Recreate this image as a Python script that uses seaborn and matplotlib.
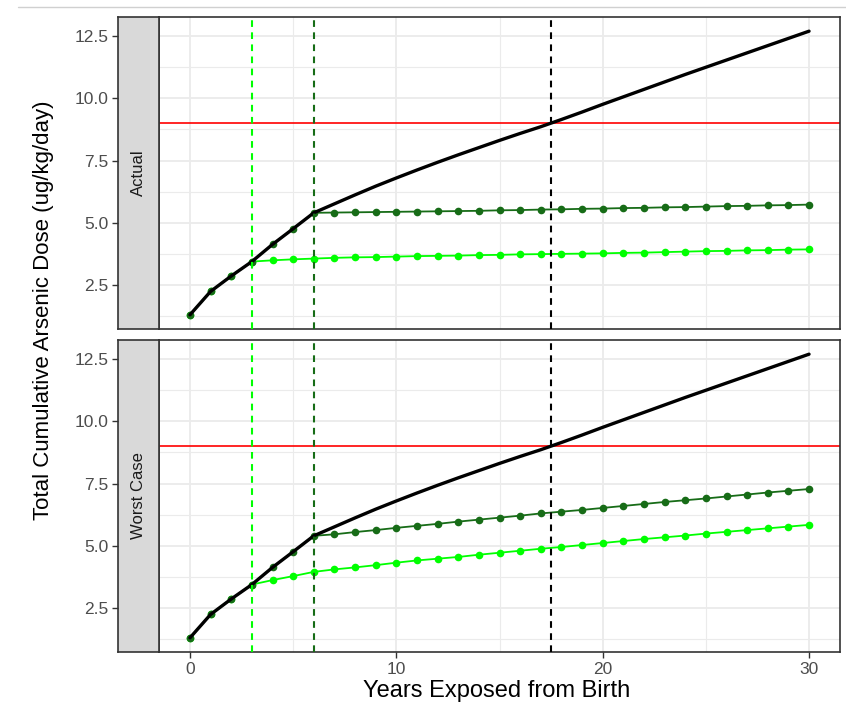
import numpy as np
import pandas as pd
import matplotlib
matplotlib.use("Agg")
import matplotlib.pyplot as plt
from matplotlib.lines import Line2D
from matplotlib.ticker import MultipleLocator
import seaborn as sns

# ---------------- data ----------------
years = list(range(31))
panels = ["Actual", "Worst Case"]

black_total = [1.30, 2.24, 2.86, 3.44, 4.13, 4.76, 5.40, 5.76, 6.12, 6.47, 6.80,
               7.12, 7.43, 7.73, 8.02, 8.31, 8.59, 8.86, 9.15, 9.45, 9.76,
               10.06, 10.36, 10.66, 10.96, 11.25, 11.54, 11.83, 12.12, 12.41, 12.70]

dg_actual = [1.30, 2.24, 2.86, 3.44, 4.13, 4.76, 5.40, 5.41, 5.42, 5.43, 5.44,
             5.45, 5.46, 5.47, 5.48, 5.50, 5.51, 5.53, 5.54, 5.56, 5.57,
             5.59, 5.60, 5.62, 5.63, 5.65, 5.67, 5.68, 5.70, 5.71, 5.73]

lg_actual = [1.30, 2.24, 2.86, 3.44, 3.49, 3.53, 3.56, 3.59, 3.61, 3.62, 3.64,
             3.66, 3.67, 3.68, 3.70, 3.71, 3.73, 3.74, 3.75, 3.76, 3.77,
             3.79, 3.80, 3.82, 3.84, 3.86, 3.87, 3.89, 3.90, 3.92, 3.93]

dg_worst = [1.30, 2.24, 2.86, 3.44, 4.13, 4.76, 5.40, 5.46, 5.55, 5.63, 5.72,
            5.80, 5.88, 5.97, 6.05, 6.13, 6.21, 6.30, 6.37, 6.44, 6.52,
            6.60, 6.68, 6.76, 6.83, 6.90, 6.98, 7.06, 7.14, 7.21, 7.28]

lg_worst = [1.30, 2.24, 2.86, 3.44, 3.62, 3.78, 3.95, 4.05, 4.13, 4.22, 4.32,
            4.41, 4.48, 4.55, 4.64, 4.72, 4.80, 4.88, 4.95, 5.03, 5.11,
            5.19, 5.27, 5.34, 5.41, 5.49, 5.56, 5.63, 5.70, 5.77, 5.84]

threshold = 9.0
vlines = [3, 6, 17.5]
x_ticks = [0, 10, 20, 30]
y_ticks = [2.5, 5.0, 7.5, 10.0, 12.5]
y_tick_labels = ["2.5", "5.0", "7.5", "10.0", "12.5"]

rows = []
for panel, dg, lg in [("Actual", dg_actual, lg_actual), ("Worst Case", dg_worst, lg_worst)]:
    for name, vals in [("light", lg), ("dark", dg), ("total", black_total)]:
        for yr, v in zip(years, vals):
            rows.append({"panel": panel, "series": name, "year": yr, "dose": v})
df = pd.DataFrame(rows)

# ---------------- style ----------------
sns.set_theme(style="white")
plt.rcParams["font.family"] = ["Liberation Sans", "DejaVu Sans"]

W, H = 846, 709
fig = plt.figure(figsize=(W / 100, H / 100), dpi=100)

def fx(px):
    return px / W

def fy(py):
    return 1 - py / H

main_left, main_right = 159, 840
strip_left = 118
panel_px = [(17, 329), (340, 652)]

col_light = "#00FF00"
col_dark = "#176c17"
border = "#333333"

ymin = min(black_total) - 0.05 * (max(black_total) - min(black_total))
ymax = max(black_total) + 0.05 * (max(black_total) - min(black_total))

for i, (panel, (top, bot)) in enumerate(zip(panels, panel_px)):
    ax = fig.add_axes([fx(main_left), fy(bot), fx(main_right - main_left), (bot - top) / H])
    sax = fig.add_axes([fx(strip_left), fy(bot), fx(main_left - strip_left), (bot - top) / H], sharey=ax)

    ax.set_facecolor("white")
    ax.set_xlim(-1.5, 31.5)
    ax.set_ylim(ymin, ymax)
    ax.xaxis.set_major_locator(MultipleLocator(10))
    ax.xaxis.set_minor_locator(MultipleLocator(5))
    ax.yaxis.set_major_locator(MultipleLocator(2.5))
    ax.yaxis.set_minor_locator(MultipleLocator(1.25))
    ax.grid(True, which="major", color="#EBEBEB", linewidth=1.3)
    ax.grid(True, which="minor", color="#EBEBEB", linewidth=0.8)
    ax.set_axisbelow(True)
    for s in ax.spines.values():
        s.set_color(border)
        s.set_linewidth(1.2)

    sub = df[df["panel"] == panel]
    ax.axhline(threshold, color="red", linewidth=1.2, zorder=2)
    sns.lineplot(data=sub[sub["series"] == "light"], x="year", y="dose", ax=ax,
                 color=col_light, linewidth=1.3, marker="o", markersize=5.5,
                 markeredgewidth=0, zorder=3)
    sns.lineplot(data=sub[sub["series"] == "dark"], x="year", y="dose", ax=ax,
                 color=col_dark, linewidth=1.3, marker="o", markersize=5.5,
                 markeredgewidth=0, zorder=4)
    sns.lineplot(data=sub[sub["series"] == "total"], x="year", y="dose", ax=ax,
                 color="black", linewidth=2.4, zorder=5)
    for xv, c in zip(vlines, [col_light, col_dark, "black"]):
        ax.axvline(xv, color=c, linestyle=(0, (3.2, 2.6)), linewidth=1.5, zorder=6)

    ax.set_xlabel("")
    ax.set_ylabel("")
    ax.tick_params(axis="y", left=False, labelleft=False)
    if i == 0:
        ax.tick_params(axis="x", bottom=False, labelbottom=False)
    else:
        ax.set_xticks(x_ticks)
        ax.set_xticklabels([str(t) for t in x_ticks])
        ax.tick_params(axis="x", bottom=True, length=4, width=1.0, color=border,
                       labelsize=12.5, labelcolor="#4D4D4D", pad=3)

    # strip
    sax.set_facecolor("#D9D9D9")
    sax.set_xticks([])
    sax.set_yticks(y_ticks)
    sax.set_yticklabels(y_tick_labels)
    sax.tick_params(axis="y", left=True, length=4, width=1.0, color=border,
                    labelsize=12.5, labelcolor="#4D4D4D", pad=3)
    sax.grid(False)
    for s in sax.spines.values():
        s.set_color(border)
        s.set_linewidth(1.2)
    sax.text(0.5, 0.5, panel, transform=sax.transAxes, rotation=90,
             ha="center", va="center", fontsize=12, color="#1A1A1A")
    sax.set_ylabel("")

fig.text(fx(497), fy(691), "Years Exposed from Birth", ha="center", va="center",
         fontsize=17, color="black")
fig.text(fx(44), fy(310), "Total Cumulative Arsenic Dose (ug/kg/day)", rotation=90,
         ha="center", va="center", fontsize=16, color="black")

fig.add_artist(Line2D([fx(18), 1.0], [fy(7), fy(7)], color="#D0D0D0", linewidth=1.0))

fig.savefig("out.png", dpi=100)
